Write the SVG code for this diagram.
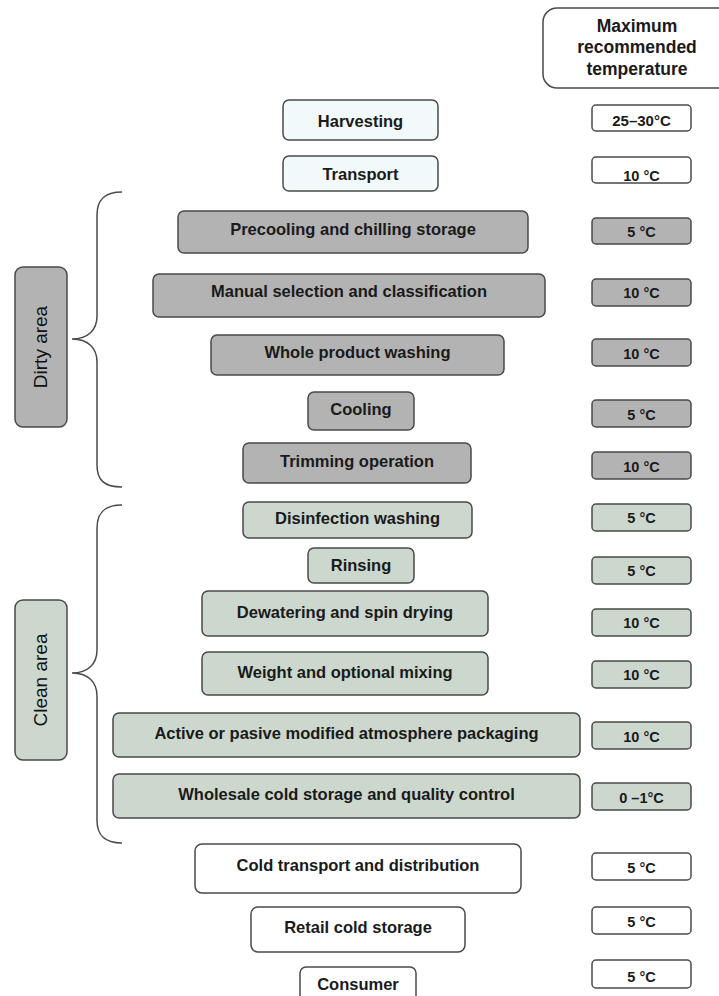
<svg xmlns="http://www.w3.org/2000/svg" width="719" height="996" viewBox="0 0 719 996">
<style>
.b{stroke:#4a4a4a;stroke-width:1.5}
.lt{fill:#f2f9fa}
.dy{fill:#b3b3b3}
.cl{fill:#ccd7cd}
.wh{fill:#ffffff}
.t{font-family:"Liberation Sans",Arial,sans-serif;font-weight:bold;font-size:16.5px;fill:#1a1a1a;text-anchor:middle}
.tt{font-family:"Liberation Sans",Arial,sans-serif;font-weight:bold;font-size:14.5px;fill:#1a1a1a;text-anchor:middle}
.h{font-family:"Liberation Sans",Arial,sans-serif;font-weight:bold;font-size:17.5px;fill:#1a1a1a;text-anchor:middle}
.a{font-family:"Liberation Sans",Arial,sans-serif;font-size:19px;fill:#111111;text-anchor:middle}
.br{fill:none;stroke:#4a4a4a;stroke-width:1.5}
</style>
<rect width="719" height="996" fill="#ffffff"/>
<g id="header">
<rect class="b wh" x="543" y="8" width="200" height="80" rx="14"/>
<text class="h" x="637" y="32">Maximum</text>
<text class="h" x="637" y="53">recommended</text>
<text class="h" x="637" y="75">temperature</text>
</g>
<g id="connectors">
<path class="br" d="M122,192 C104,192 97,200 97,215 L97,316 C97,330 88,339 72,339 C88,339 97,348 97,362 L97,465 C97,480 104,487 122,487"/>
<path class="br" d="M122,505 C104,505 97,513 97,528 L97,650 C97,664 88,673 72,673 C88,673 97,682 97,696 L97,820 C97,835 104,843 122,843"/>
</g>
<g id="dirty-area">
<rect class="b dy" x="15" y="267" width="52" height="160" rx="8"/>
<text class="a" transform="translate(47,347) rotate(-90)">Dirty area</text>
</g>
<g id="clean-area">
<rect class="b cl" x="15" y="600" width="52" height="160" rx="8"/>
<text class="a" transform="translate(47,680) rotate(-90)">Clean area</text>
</g>
<g id="harvesting"><rect class="b lt" x="283" y="100" width="155" height="40" rx="6"/><text class="t" x="360.5" y="127">Harvesting</text></g>
<g id="transport"><rect class="b lt" x="283" y="156" width="155" height="35" rx="6"/><text class="t" x="360.5" y="180">Transport</text></g>
<g id="precooling"><rect class="b dy" x="178" y="211" width="350" height="42" rx="6"/><text class="t" x="353" y="235">Precooling and chilling storage</text></g>
<g id="manual-selection"><rect class="b dy" x="153" y="274" width="392" height="43" rx="6"/><text class="t" x="349" y="297">Manual selection and classification</text></g>
<g id="whole-washing"><rect class="b dy" x="211" y="335" width="293" height="40" rx="6"/><text class="t" x="357.5" y="358">Whole product washing</text></g>
<g id="cooling"><rect class="b dy" x="308" y="392" width="106" height="38" rx="6"/><text class="t" x="361" y="415">Cooling</text></g>
<g id="trimming"><rect class="b dy" x="243" y="443" width="228" height="40" rx="6"/><text class="t" x="357" y="467">Trimming operation</text></g>
<g id="disinfection"><rect class="b cl" x="243" y="502" width="229" height="36" rx="6"/><text class="t" x="357.5" y="524">Disinfection washing</text></g>
<g id="rinsing"><rect class="b cl" x="308" y="548" width="106" height="35" rx="6"/><text class="t" x="361" y="571">Rinsing</text></g>
<g id="dewatering"><rect class="b cl" x="202" y="591" width="286" height="45" rx="6"/><text class="t" x="345" y="618">Dewatering and spin drying</text></g>
<g id="weight"><rect class="b cl" x="202" y="652" width="286" height="43" rx="6"/><text class="t" x="345" y="678">Weight and optional mixing</text></g>
<g id="packaging"><rect class="b cl" x="113" y="713" width="467" height="44" rx="6"/><text class="t" x="346.5" y="739">Active or pasive modified atmosphere packaging</text></g>
<g id="wholesale"><rect class="b cl" x="113" y="774" width="467" height="44" rx="6"/><text class="t" x="346.5" y="800">Wholesale cold storage and quality control</text></g>
<g id="cold-transport"><rect class="b wh" x="195" y="844" width="326" height="49" rx="7"/><text class="t" x="358" y="871">Cold transport and distribution</text></g>
<g id="retail"><rect class="b wh" x="251" y="907" width="214" height="45" rx="7"/><text class="t" x="358" y="933">Retail cold storage</text></g>
<g id="consumer"><rect class="b wh" x="300" y="967" width="116" height="40" rx="6"/><text class="t" x="358" y="990">Consumer</text></g>
<g id="temps">
<g id="t-harvesting"><rect class="b wh" x="592" y="105" width="99" height="26" rx="4"/><text class="tt" x="641.5" y="126" style="font-size:15px">25–30°C</text></g>
<g id="t-transport"><rect class="b wh" x="592" y="157" width="99" height="26" rx="4"/><text class="tt" x="641.5" y="181">10 °C</text></g>
<g id="t-precooling"><rect class="b dy" x="592" y="218" width="99" height="26" rx="4"/><text class="tt" x="641.5" y="237">5 °C</text></g>
<g id="t-manual"><rect class="b dy" x="592" y="279" width="99" height="27" rx="4"/><text class="tt" x="641.5" y="298">10 °C</text></g>
<g id="t-whole"><rect class="b dy" x="592" y="339" width="99" height="27" rx="4"/><text class="tt" x="641.5" y="359">10 °C</text></g>
<g id="t-cooling"><rect class="b dy" x="592" y="400" width="99" height="27" rx="4"/><text class="tt" x="641.5" y="420">5 °C</text></g>
<g id="t-trimming"><rect class="b dy" x="592" y="452" width="99" height="27" rx="4"/><text class="tt" x="641.5" y="472">10 °C</text></g>
<g id="t-disinfection"><rect class="b cl" x="592" y="504" width="99" height="27" rx="4"/><text class="tt" x="641.5" y="523">5 °C</text></g>
<g id="t-rinsing"><rect class="b cl" x="592" y="557" width="99" height="27" rx="4"/><text class="tt" x="641.5" y="576">5 °C</text></g>
<g id="t-dewatering"><rect class="b cl" x="592" y="609" width="99" height="27" rx="4"/><text class="tt" x="641.5" y="628">10 °C</text></g>
<g id="t-weight"><rect class="b cl" x="592" y="661" width="99" height="27" rx="4"/><text class="tt" x="641.5" y="680">10 °C</text></g>
<g id="t-packaging"><rect class="b cl" x="592" y="722" width="99" height="27" rx="4"/><text class="tt" x="641.5" y="742">10 °C</text></g>
<g id="t-wholesale"><rect class="b cl" x="592" y="783" width="99" height="27" rx="4"/><text class="tt" x="641.5" y="803">0 –1°C</text></g>
<g id="t-cold-transport"><rect class="b wh" x="592" y="853" width="99" height="27" rx="4"/><text class="tt" x="641.5" y="873">5 °C</text></g>
<g id="t-retail"><rect class="b wh" x="592" y="907" width="99" height="27" rx="4"/><text class="tt" x="641.5" y="927">5 °C</text></g>
<g id="t-consumer"><rect class="b wh" x="592" y="960" width="99" height="28" rx="4"/><text class="tt" x="641.5" y="982">5 °C</text></g>
</g>
</svg>
